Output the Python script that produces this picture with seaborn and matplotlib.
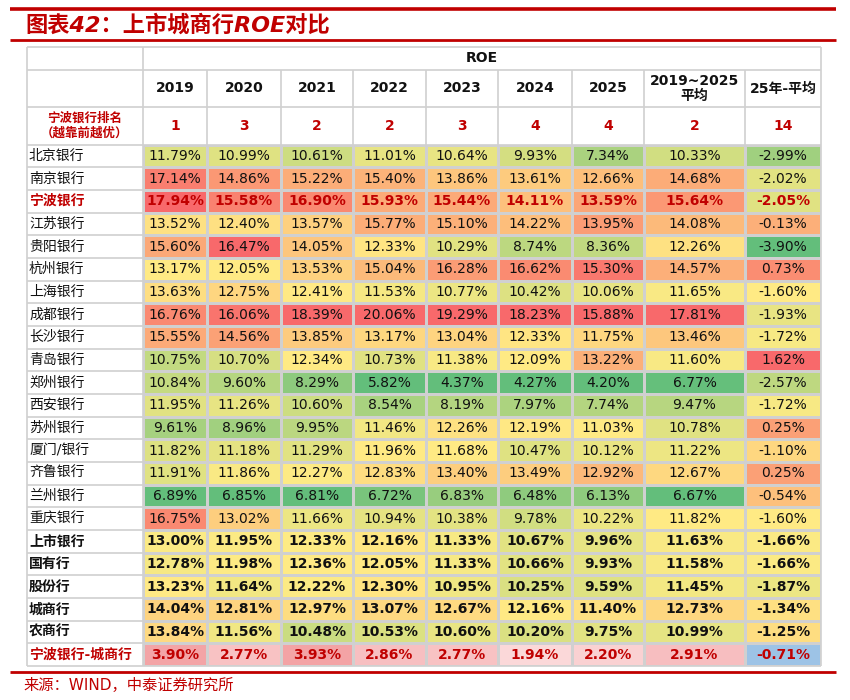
import numpy as np
import pandas as pd
import matplotlib
matplotlib.use("Agg")
import matplotlib.pyplot as plt
import seaborn as sns
from matplotlib.colors import LinearSegmentedColormap

sns.set_style("white")
plt.rcParams["font.family"] = ["DejaVu Sans", "Noto Sans CJK SC"]

# -------------------------------------------------
# DATA
# -------------------------------------------------
banks = ["北京银行", "南京银行", "宁波银行", "江苏银行", "贵阳银行", "杭州银行",
         "上海银行", "成都银行", "长沙银行", "青岛银行", "郑州银行", "西安银行",
         "苏州银行", "厦门/银行", "齐鲁银行", "兰州银行", "重庆银行"]
groups = ["上市银行", "国有行", "股份行", "城商行", "农商行"]
diff_label = "宁波银行-城商行"

columns = ["2019", "2020", "2021", "2022", "2023", "2024", "2025",
           "2019~2025\n平均", "25年-平均"]
nb_rank = [1, 3, 2, 2, 3, 4, 4, 2, 14]

# 17 banks followed by the 5 group rows
roe_2019 = [11.79, 17.14, 17.94, 13.52, 15.60, 13.17, 13.63, 16.76, 15.55, 10.75, 10.84,
            11.95, 9.61, 11.82, 11.91, 6.89, 16.75, 13.00, 12.78, 13.23, 14.04, 13.84]
roe_2020 = [10.99, 14.86, 15.58, 12.40, 16.47, 12.05, 12.75, 16.06, 14.56, 10.70, 9.60,
            11.26, 8.96, 11.18, 11.86, 6.85, 13.02, 11.95, 11.98, 11.64, 12.81, 11.56]
roe_2021 = [10.61, 15.22, 16.90, 13.57, 14.05, 13.53, 12.41, 18.39, 13.85, 12.34, 8.29,
            10.60, 9.95, 11.29, 12.27, 6.81, 11.66, 12.33, 12.36, 12.22, 12.97, 10.48]
roe_2022 = [11.01, 15.40, 15.93, 15.77, 12.33, 15.04, 11.53, 20.06, 13.17, 10.73, 5.82,
            8.54, 11.46, 11.96, 12.83, 6.72, 10.94, 12.16, 12.05, 12.30, 13.07, 10.53]
roe_2023 = [10.64, 13.86, 15.44, 15.10, 10.29, 16.28, 10.77, 19.29, 13.04, 11.38, 4.37,
            8.19, 12.26, 11.68, 13.40, 6.83, 10.38, 11.33, 11.33, 10.95, 12.67, 10.60]
roe_2024 = [9.93, 13.61, 14.11, 14.22, 8.74, 16.62, 10.42, 18.23, 12.33, 12.09, 4.27,
            7.97, 12.19, 10.47, 13.49, 6.48, 9.78, 10.67, 10.66, 10.25, 12.16, 10.20]
roe_2025 = [7.34, 12.66, 13.59, 13.95, 8.36, 15.30, 10.06, 15.88, 11.75, 13.22, 4.20,
            7.74, 11.03, 10.12, 12.92, 6.13, 10.22, 9.96, 9.93, 9.59, 11.40, 9.75]
roe_avg = [10.33, 14.68, 15.64, 14.08, 12.26, 14.57, 11.65, 17.81, 13.46, 11.60, 6.77,
           9.47, 10.78, 11.22, 12.67, 6.67, 11.82, 11.63, 11.58, 11.45, 12.73, 10.99]
roe_25_vs_avg = [-2.99, -2.02, -2.05, -0.13, -3.90, 0.73, -1.60, -1.93, -1.72, 1.62, -2.57,
                 -1.72, 0.25, -1.10, 0.25, -0.54, -1.60, -1.66, -1.66, -1.87, -1.34, -1.25]
nb_minus_city = [3.90, 2.77, 3.93, 2.86, 2.77, 1.94, 2.20, 2.91, -0.71]

col_values = [roe_2019, roe_2020, roe_2021, roe_2022, roe_2023, roe_2024, roe_2025,
              roe_avg, roe_25_vs_avg]

# -------------------------------------------------
# STYLE / LAYOUT (pixels on a 850x700 canvas)
# -------------------------------------------------
W, H = 850, 700
RED = "#C00000"
GRID = "#D0D0D0"
TEXT = "#111111"

col_edges = [143, 207, 281, 353, 426, 498, 572, 644, 745, 821]
label_left = 27
table_top, hdr1, hdr2, body_top, table_bottom = 47, 70, 107, 144.5, 666

row_labels = banks + groups + [diff_label]
n_rows = len(row_labels)
row_h = (table_bottom - body_top) / n_rows

# Excel-like 3 colour scale: min green, median yellow, max red
cmap_main = LinearSegmentedColormap.from_list("gyr", ["#63BE7B", "#FFEB84", "#F8696B"])
cmap_diff = LinearSegmentedColormap.from_list("pink", ["#FBD8D9", "#F3A3A5"])
cmap_diff.set_under("#9DC3E6")


def scale_column(vals, n_ref):
    v = np.asarray(vals, dtype=float)
    ref = v[:n_ref]
    lo, mid, hi = ref.min(), np.median(ref), ref.max()
    t = np.where(v <= mid, 0.5 * (v - lo) / (mid - lo), 0.5 + 0.5 * (v - mid) / (hi - mid))
    return np.clip(t, 0, 1)


def text_style(i):
    if row_labels[i] in ("宁波银行", diff_label):
        return dict(color=RED, fontweight="bold")
    if row_labels[i] in groups:
        return dict(color=TEXT, fontweight="bold")
    return dict(color=TEXT, fontweight="normal")


fig = plt.figure(figsize=(W / 100, H / 100), dpi=100)

# -------------------------------------------------
# one heatmap per column (each column has its own scale)
# -------------------------------------------------
diff_pos = [v for v in nb_minus_city if v > 0]
for j, vals in enumerate(col_values):
    x0, x1 = col_edges[j], col_edges[j + 1]
    ax = fig.add_axes([x0 / W, 1 - table_bottom / H, (x1 - x0) / W,
                       (table_bottom - body_top) / H])

    main = list(scale_column(vals, len(banks))) + [np.nan]
    diff = [np.nan] * len(vals) + [nb_minus_city[j]]

    sns.heatmap(pd.DataFrame({"v": main}), cmap=cmap_main, vmin=0, vmax=1, cbar=False,
                linewidths=1, linecolor=GRID, xticklabels=False, yticklabels=False, ax=ax)
    sns.heatmap(pd.DataFrame({"v": diff}), cmap=cmap_diff, vmin=min(diff_pos),
                vmax=max(diff_pos), cbar=False, linewidths=1, linecolor=GRID,
                xticklabels=False, yticklabels=False, ax=ax)

    labels = list(vals) + [nb_minus_city[j]]
    for i, v in enumerate(labels):
        ax.text(0.5, i + 0.5, f"{v:.2f}%", ha="center", va="center", fontsize=10,
                **text_style(i))
    ax.set_xlabel("")
    ax.set_ylabel("")

# -------------------------------------------------
# overlay: title, header, row labels, grid, source
# -------------------------------------------------
ov = fig.add_axes([0, 0, 1, 1], zorder=5)
ov.set_xlim(0, W)
ov.set_ylim(H, 0)
ov.patch.set_alpha(0)
ov.axis("off")

# title band
ov.hlines([9], 10, 836, color=RED, lw=2.6)
ov.hlines([40], 10, 836, color=RED, lw=2.0)
ov.text(25, 25, "图表42：上市城商行ROE对比", ha="left", va="center", fontsize=16,
        fontweight="bold", fontstyle="italic", color=RED)

# grid for header and label column
ov.hlines([table_top, hdr1], label_left, col_edges[-1], color=GRID, lw=1.2)
ov.hlines([hdr2, body_top], label_left, col_edges[-1], color=GRID, lw=1.2)
ov.hlines([table_bottom], label_left, col_edges[-1], color=GRID, lw=1.2)
for k in range(1, n_rows):
    ov.hlines(body_top + k * row_h, label_left, col_edges[0], color=GRID, lw=1.2)
ov.vlines([label_left, col_edges[0], col_edges[-1]], table_top, table_bottom,
          color=GRID, lw=1.2)
ov.vlines(col_edges[1:-1], hdr1, body_top, color=GRID, lw=1.2)

# header text
ov.text((col_edges[0] + col_edges[-1]) / 2, (table_top + hdr1) / 2, "ROE",
        ha="center", va="center", fontsize=10, fontweight="bold", color=TEXT)
for j, name in enumerate(columns):
    xc = (col_edges[j] + col_edges[j + 1]) / 2
    ov.text(xc, (hdr1 + hdr2) / 2, name, ha="center", va="center", fontsize=10,
            fontweight="bold", color=TEXT, linespacing=1.05)
    ov.text(xc, (hdr2 + body_top) / 2, str(nb_rank[j]), ha="center", va="center",
            fontsize=10, fontweight="bold", color=RED)
ov.text((label_left + col_edges[0]) / 2, (hdr2 + body_top) / 2,
        "宁波银行排名\n（越靠前越优）", ha="center", va="center", fontsize=9,
        fontweight="bold", color=RED, linespacing=1.2)

# row labels
for i, name in enumerate(row_labels):
    ov.text(label_left + 2, body_top + (i + 0.5) * row_h, name, ha="left",
            va="center", fontsize=10, **text_style(i))

# source
ov.hlines([672], 10, 836, color=RED, lw=2.0)
ov.text(23, 685, "来源：WIND，中泰证券研究所", ha="left", va="center", fontsize=11,
        color=RED)

fig.savefig("out.png", dpi=100)
